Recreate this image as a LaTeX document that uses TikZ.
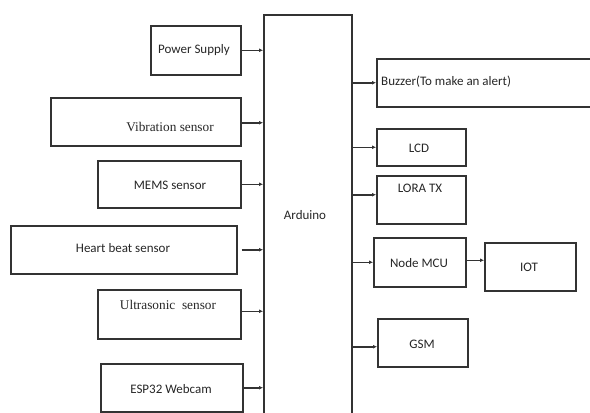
\documentclass[tikz,border=0pt]{standalone}
\usepackage{fontspec}
\setmainfont{Carlito}
\newfontfamily\serifx{Liberation Serif}
\usetikzlibrary{arrows.meta}
\begin{document}
\begin{tikzpicture}[x=1pt,y=-1pt,
  blk/.style={draw=black!80,line width=1.5pt,inner sep=0pt,anchor=north west},
  lbl/.style={inner sep=0pt,font=\fontsize{13}{14}\selectfont,text=black!85},
  slbl/.style={lbl,font=\serifx\fontsize{13.3}{14}\selectfont},
  arr/.style={draw=black!80,line width=1.5pt,-{Latex[length=4pt,width=4pt]}}]
\useasboundingbox (0,0) rectangle (590,413);
\clip (0,0) rectangle (590,413);
% Arduino
\node[blk,minimum width=88pt,minimum height=420pt] (ard) at (263,14) {};
\node[lbl] (ardt) at (305,215) {Arduino};
% left blocks
\node[blk,minimum width=90pt,minimum height=49pt] (ps) at (150,25) {};
\node[lbl] (pst) at (194,50) {Power Supply};
\node[blk,minimum width=190pt,minimum height=48pt] (vib) at (50,97) {};
\node[slbl] (vibt) at (170,127) {Vibration sensor};
\node[blk,minimum width=143pt,minimum height=47pt] (mems) at (97,160) {};
\node[lbl] (memst) at (170,185) {MEMS sensor};
\node[blk,minimum width=226pt,minimum height=48pt] (hb) at (10,225) {};
\node[lbl] (hbt) at (123,248) {Heart beat sensor};
\node[blk,minimum width=143pt,minimum height=49pt] (us) at (97,289) {};
\node[slbl] (ust) at (168,305) {Ultrasonic\ \ sensor};
\node[blk,minimum width=142pt,minimum height=48pt] (esp) at (100,363) {};
\node[lbl] (espt) at (171,389) {ESP32 Webcam};
% right blocks
\node[blk,minimum width=230pt,minimum height=48pt] (buz) at (376,58) {};
\node[lbl,anchor=west] (buzt) at (381,82) {Buzzer(To make an alert)};
\node[blk,minimum width=89pt,minimum height=37pt] (lcd) at (376,128) {};
\node[lbl] (lcdt) at (419,148) {LCD};
\node[blk,minimum width=89pt,minimum height=48pt] (lora) at (376,175) {};
\node[lbl] (lorat) at (420,188) {LORA TX};
\node[blk,minimum width=92pt,minimum height=49pt] (mcu) at (373,237) {};
\node[lbl] (mcut) at (419,263) {Node MCU};
\node[blk,minimum width=91pt,minimum height=48pt] (iot) at (484,242) {};
\node[lbl] (iott) at (529,267) {IOT};
\node[blk,minimum width=90pt,minimum height=48pt] (gsm) at (377,318) {};
\node[lbl] (gsmt) at (422,344) {GSM};
% arrows in
\draw[arr] (ps.east) -- (ps.east -| ard.west);
\draw[arr] ([yshift=-1pt]vib.east) -- ([yshift=-1pt]vib.east -| ard.west);
\draw[arr] (mems.east) -- (mems.east -| ard.west);
\draw[arr] ([xshift=4pt]hb.east) -- (hb.east -| ard.west);
\draw[arr] ([yshift=3pt]us.east) -- ([yshift=3pt]us.east -| ard.west);
\draw[arr] (esp.east) -- (esp.east -| ard.west);
% arrows out
\draw[arr] (buz.west -| ard.east) -- (buz.west);
\draw[arr] (lcd.west -| ard.east) -- (lcd.west);
\draw[arr] ([yshift=5pt]lora.west -| ard.east) -- ([yshift=5pt]lora.west);
\draw[arr] (mcu.west -| ard.east) -- (mcu.west);
\draw[arr] ([yshift=-4pt]gsm.west -| ard.east) -- ([yshift=-4pt]gsm.west);
\draw[arr] ([yshift=2pt]mcu.east) -- ([yshift=2pt]mcu.east -| iot.west);
\end{tikzpicture}
\end{document}
